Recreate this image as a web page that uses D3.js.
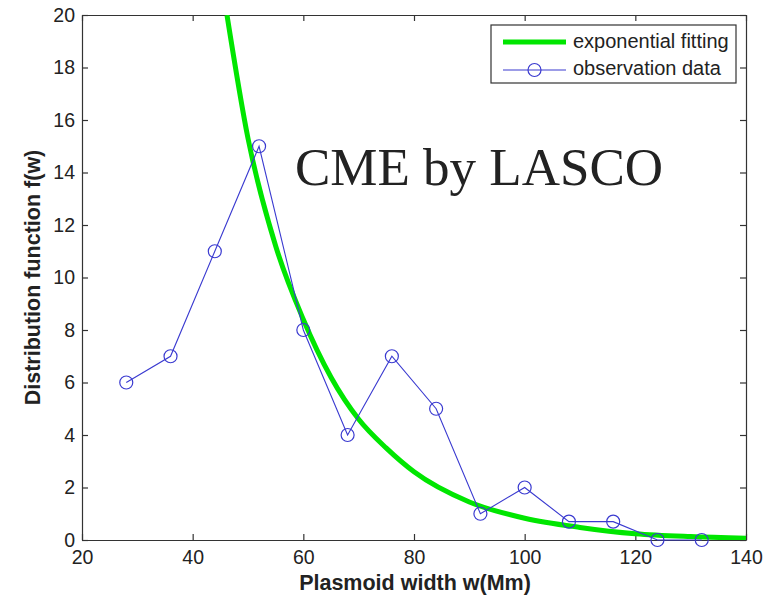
<!DOCTYPE html>
<html>
<head>
<meta charset="utf-8">
<script src="https://cdn.jsdelivr.net/npm/d3@7"></script>
<style>
  body { margin: 0; background: #fff; }
  svg { display: block; }
  text { font-family: "Liberation Sans", Arial, sans-serif; fill: #222; }
</style>
</head>
<body>
<div id="stage"></div>
<script>

// observed plasmoid widths (Mm) and counts
var widths = [28, 36, 44, 52, 60, 68, 76, 84, 92, 100, 108, 116, 124, 132];
var counts = [6, 7, 11, 15, 8, 4, 7, 5, 1, 2, 0.7, 0.7, 0, 0];

// exponential fit, sampled
var fitW = [46.2, 50, 55, 60, 65, 70, 75, 80, 90, 100, 110, 120, 130, 140];
var fitF = [20, 15.3, 11.2, 8.4, 6.2, 4.6, 3.5, 2.6, 1.45, 0.83, 0.48, 0.24, 0.13, 0.07];

var xTicks = [20, 40, 60, 80, 100, 120, 140];
var yTicks = [0, 2, 4, 6, 8, 10, 12, 14, 16, 18, 20];

var W = 777, H = 596;
var m = {left: 82, right: 31, top: 15, bottom: 56};
var pw = W - m.left - m.right, ph = H - m.top - m.bottom;

var svg = d3.select("#stage").append("svg")
  .attr("width", W).attr("height", H);

var x = d3.scaleLinear().domain([20, 140]).range([0, pw]);
var y = d3.scaleLinear().domain([0, 20]).range([ph, 0]);

svg.append("defs").append("clipPath").attr("id", "plotclip")
  .append("rect").attr("width", pw).attr("height", ph);

var g = svg.append("g").attr("transform", "translate(" + m.left + "," + m.top + ")");

// axes, ticks pointing inward like matlab
var axisColor = "#333";
function styleAxis(sel) {
  sel.select(".domain").attr("stroke", axisColor).attr("stroke-width", 1.2);
  sel.selectAll(".tick line").attr("stroke", axisColor).attr("stroke-width", 1.2);
  sel.selectAll("text").attr("font-size", 19.5).attr("fill", "#222")
    .attr("font-family", "'Liberation Sans', Arial, sans-serif");
}

g.append("g").attr("transform", "translate(0," + ph + ")")
  .call(d3.axisBottom(x).tickValues(xTicks).tickSizeInner(-6).tickSizeOuter(0).tickPadding(10))
  .call(styleAxis);
g.append("g")
  .call(d3.axisLeft(y).tickValues(yTicks).tickSizeInner(-6).tickSizeOuter(0).tickPadding(7))
  .call(styleAxis);
g.append("g")
  .call(d3.axisTop(x).tickValues(xTicks).tickSizeInner(-6).tickSizeOuter(0).tickFormat(""))
  .call(styleAxis);
g.append("g").attr("transform", "translate(" + pw + ",0)")
  .call(d3.axisRight(y).tickValues(yTicks).tickSizeInner(-6).tickSizeOuter(0).tickFormat(""))
  .call(styleAxis);

var plot = g.append("g").attr("clip-path", "url(#plotclip)");

var fitLine = d3.line()
  .x(function(d){ return x(d[0]); })
  .y(function(d){ return y(d[1]); })
  .curve(d3.curveMonotoneX);

plot.append("path")
  .datum(d3.zip(fitW, fitF))
  .attr("d", fitLine)
  .attr("fill", "none")
  .attr("stroke", "#00e600")
  .attr("stroke-width", 5);

var blue = "#3a3ad0";
var obs = d3.zip(widths, counts);

g.append("path")
  .datum(obs)
  .attr("d", d3.line().x(function(d){ return x(d[0]); }).y(function(d){ return y(d[1]); }))
  .attr("fill", "none")
  .attr("stroke", blue)
  .attr("stroke-width", 1.1);

g.selectAll("circle.obs")
  .data(obs)
  .enter().append("circle")
  .attr("class", "obs")
  .attr("cx", function(d){ return x(d[0]); })
  .attr("cy", function(d){ return y(d[1]); })
  .attr("r", 6.5)
  .attr("fill", "none")
  .attr("stroke", blue)
  .attr("stroke-width", 1.2);

// axis titles
svg.append("text")
  .attr("x", m.left + pw / 2 + 1).attr("y", 590)
  .attr("text-anchor", "middle")
  .attr("font-size", 21.5).attr("font-weight", "bold")
  .text("Plasmoid width w(Mm)");

svg.append("text")
  .attr("transform", "translate(40," + (m.top + ph / 2) + ") rotate(-90)")
  .attr("text-anchor", "middle")
  .attr("font-size", 21.5).attr("font-weight", "bold")
  .text("Distribution function f(w)");

// annotation
svg.append("text")
  .attr("x", 295).attr("y", 185)
  .style("font-family", "'Liberation Serif', 'Times New Roman', serif")
  .attr("font-size", 53)
  .attr("fill", "#000")
  .text("CME by LASCO");

// legend
var lg = svg.append("g").attr("transform", "translate(491,25)");
lg.append("rect")
  .attr("width", 245).attr("height", 58)
  .attr("fill", "#fff").attr("stroke", "#333").attr("stroke-width", 1.2);
lg.append("line")
  .attr("x1", 12).attr("x2", 75).attr("y1", 17).attr("y2", 17)
  .attr("stroke", "#00e600").attr("stroke-width", 5);
lg.append("line")
  .attr("x1", 12).attr("x2", 75).attr("y1", 45).attr("y2", 45)
  .attr("stroke", blue).attr("stroke-width", 1.1);
lg.append("circle")
  .attr("cx", 43.5).attr("cy", 45).attr("r", 6.5)
  .attr("fill", "none").attr("stroke", blue).attr("stroke-width", 1.2);
lg.append("text").attr("x", 82).attr("y", 23).attr("font-size", 20).text("exponential fitting");
lg.append("text").attr("x", 82).attr("y", 50).attr("font-size", 20).text("observation data");

</script>
</body>
</html>
